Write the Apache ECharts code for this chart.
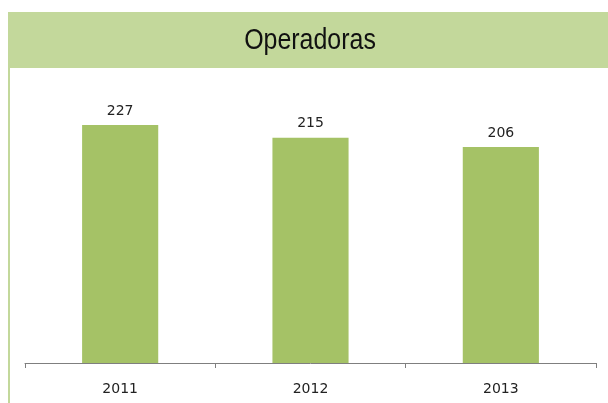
<!DOCTYPE html>
<html>
<head>
<meta charset="utf-8">
<script src="https://cdn.jsdelivr.net/npm/echarts@6/dist/echarts.min.js"></script>
<style>
  html, body { margin: 0; padding: 0; background: #ffffff; }
  #chart { width: 608px; height: 403px; }
</style>
</head>
<body>
<div id="chart"></div>
<script>
// Number of operators per year
const years = ['2011', '2012', '2013'];
const operadoras = [227, 215, 206];
const chartTitle = 'Operadoras';

const chart = echarts.init(document.getElementById('chart'), null, { renderer: 'canvas' });

chart.setOption({
  animation: false,
  backgroundColor: '#ffffff',
  graphic: [
    // title band
    { type: 'rect', shape: { x: 8, y: 12, width: 600, height: 56 }, style: { fill: '#c3d89b' }, silent: true },
    // left frame line under the band
    { type: 'rect', shape: { x: 8, y: 68, width: 2, height: 335 }, style: { fill: '#c3d89b' }, silent: true },
    {
      type: 'text', x: 310, y: 41, scaleX: 0.86,
      style: {
        text: chartTitle, fill: '#111111',
        font: '29px "Liberation Sans", Arial, sans-serif',
        textAlign: 'center', textVerticalAlign: 'middle'
      }
    }
  ],
  grid: { left: 25, right: 12, top: 101, bottom: 40 },
  xAxis: {
    type: 'category',
    data: years,
    axisLine: { lineStyle: { color: '#7f7f7f', width: 1 } },
    axisTick: { show: true, length: 5, lineStyle: { color: '#7f7f7f' } },
    axisLabel: { color: '#222222', fontSize: 14, fontFamily: '"DejaVu Sans", sans-serif', margin: 19 }
  },
  yAxis: {
    type: 'value', min: 0, max: 250,
    show: false,
    splitLine: { show: false }
  },
  series: [{
    type: 'bar',
    data: operadoras,
    barWidth: '40%',
    itemStyle: { color: '#a5c266' },
    label: {
      show: true, position: 'top', distance: 7,
      color: '#222222', fontSize: 14, fontFamily: '"DejaVu Sans", sans-serif'
    }
  }]
});
</script>
</body>
</html>
